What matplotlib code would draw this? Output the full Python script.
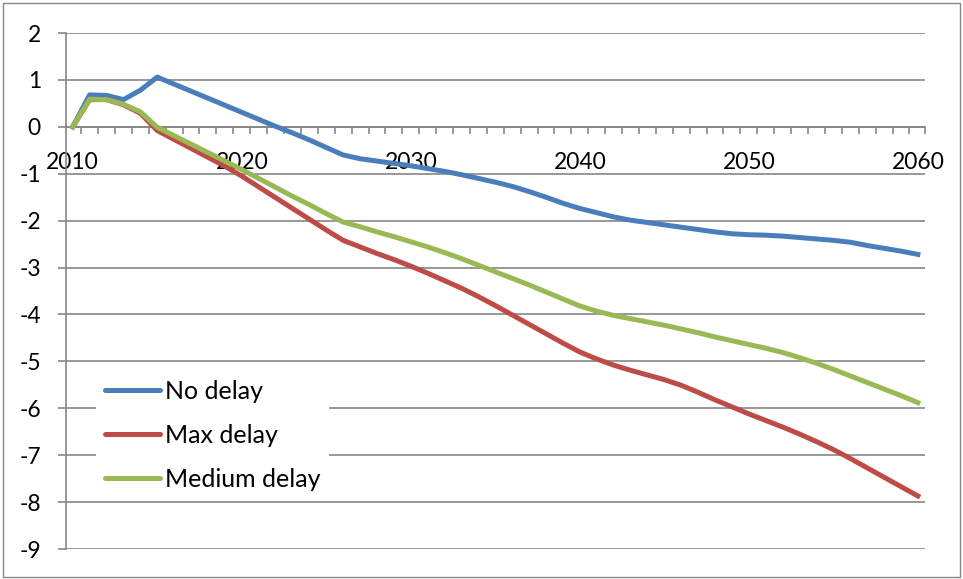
import matplotlib
matplotlib.use("Agg")
import matplotlib.pyplot as plt
from matplotlib.patches import Rectangle
import numpy as np

years = list(range(2010, 2061))
no_delay = [0, 0.68, 0.67, 0.58, 0.78, 1.06, 0.91, 0.76, 0.61, 0.46,
            0.31, 0.16, 0.01, -0.13, -0.28, -0.44, -0.60, -0.68, -0.73, -0.78,
            -0.83, -0.89, -0.95, -1.02, -1.10, -1.18, -1.27, -1.38, -1.50, -1.63,
            -1.74, -1.83, -1.92, -1.99, -2.04, -2.09, -2.14, -2.19, -2.24, -2.28,
            -2.30, -2.31, -2.33, -2.36, -2.39, -2.42, -2.46, -2.53, -2.59, -2.65,
            -2.72]
max_delay = [0, 0.58, 0.58, 0.47, 0.29, -0.08, -0.27, -0.46, -0.65, -0.84,
             -1.05, -1.28, -1.51, -1.74, -1.97, -2.20, -2.42, -2.56, -2.70, -2.83,
             -2.97, -3.12, -3.28, -3.44, -3.62, -3.81, -4.01, -4.21, -4.41, -4.61,
             -4.80, -4.95, -5.08, -5.19, -5.29, -5.39, -5.51, -5.66, -5.82, -5.97,
             -6.12, -6.26, -6.40, -6.55, -6.71, -6.88, -7.07, -7.27, -7.47, -7.67,
             -7.87]
medium_delay = [0, 0.59, 0.58, 0.48, 0.32, -0.01, -0.19, -0.37, -0.55, -0.73,
                -0.91, -1.10, -1.29, -1.48, -1.66, -1.85, -2.03, -2.13, -2.24, -2.34,
                -2.45, -2.56, -2.68, -2.81, -2.95, -3.09, -3.23, -3.37, -3.52, -3.67,
                -3.82, -3.93, -4.02, -4.09, -4.16, -4.23, -4.31, -4.39, -4.48, -4.56,
                -4.64, -4.72, -4.81, -4.92, -5.04, -5.17, -5.31, -5.45, -5.59, -5.73,
                -5.88]
labels = ["No delay", "Max delay", "Medium delay"]
label_years = [2010, 2020, 2030, 2040, 2050, 2060]
y_ticks = list(range(-9, 3))

plt.rcParams["font.family"] = ["Lato", "DejaVu Sans"]
plt.rcParams["axes.unicode_minus"] = False

GREY = "#868686"
fig = plt.figure(figsize=(9.63, 5.79), dpi=100)
ax = fig.add_axes([0.0685, 0.0518, 0.892, 0.8912])

ax.plot(years, no_delay, color="#4A7EBB", lw=3.6, label=labels[0], zorder=3)
ax.plot(years, max_delay, color="#BE4B48", lw=3.6, label=labels[1], zorder=3)
ax.plot(years, medium_delay, color="#98B954", lw=3.6, label=labels[2], zorder=3)

ax.set_xlim(2009.6, 2060.42)
ax.set_ylim(-9, 2)

# y axis: grey gridlines every unit, outward ticks
ax.set_yticks(y_ticks)
ax.set_yticklabels([str(v) for v in y_ticks])
ax.yaxis.grid(True, color=GREY, lw=1.2)
ax.set_axisbelow(True)
ax.tick_params(axis="y", direction="out", length=6, width=1.2, color=GREY,
               labelsize=16.5, pad=12)

# category axis sits on y=0, ticks between years, labels every 10 years
ax.spines["bottom"].set_position(("data", 0))
ax.spines["bottom"].set_color(GREY)
ax.spines["bottom"].set_linewidth(1.2)
ax.spines["left"].set_color(GREY)
ax.spines["left"].set_linewidth(1.2)
ax.spines["top"].set_visible(False)
ax.spines["right"].set_visible(False)
bounds = list(np.arange(2010.5, 2060, 1.0)) + [2060.42]
ax.set_xticks(bounds)
ax.set_xticklabels([])
ax.tick_params(axis="x", which="major", direction="out", length=5, width=1.2, color=GREY)
ax.set_xticks(label_years, minor=True)
ax.set_xticklabels([str(y) for y in label_years], minor=True)
ax.tick_params(axis="x", which="minor", length=0, labelsize=16.5, pad=18)

leg = ax.legend(loc="lower left", bbox_to_anchor=(0.035, 0.095), borderaxespad=0,
                fontsize=18, handlelength=2.2, handletextpad=0.2, labelspacing=0.85,
                frameon=True, fancybox=False, borderpad=0.35)
leg.get_frame().set_facecolor("white")
leg.get_frame().set_edgecolor("none")
leg.get_frame().set_alpha(1)
for line in leg.get_lines():
    line.set_solid_capstyle("round")

# chart border
fig.patches.append(Rectangle((0.003, 0.004), 0.994, 0.991, transform=fig.transFigure,
                             fill=False, edgecolor=GREY, lw=1.0))

fig.savefig("out.png", dpi=100)
